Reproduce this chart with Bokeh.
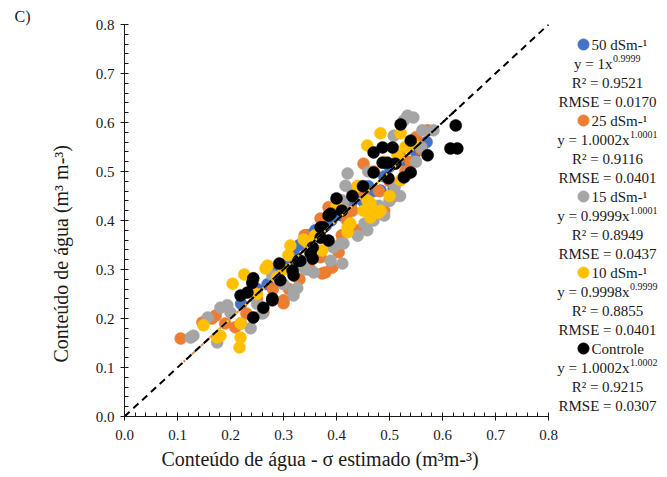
import numpy as np
from bokeh.plotting import figure
from bokeh.models import Range1d, FixedTicker, PrintfTickFormatter, Title
from bokeh.core.properties import value
from bokeh.embed import file_html
from bokeh.resources import INLINE

FONT = "Liberation Serif"
INK = "#1a1a1a"

# Series names, colours and power-fit statistics (y = a * x^b)
series_names = ["50 dSm-¹", "25 dSm-¹", "15 dSm-¹", "10 dSm-¹", "Controle"]
series_colors = ["#4472C4", "#ED7D31", "#A5A5A5", "#FFC000", "#000000"]
fit_a = [1.0, 1.0002, 0.9999, 0.9998, 1.0002]
fit_b = [0.9999, 1.0001, 1.0001, 0.9999, 1.0002]
eq_coef_text = ["1", "1.0002", "0.9999", "0.9998", "1.0002"]
eq_exp_text = ["0.9999", "1.0001", "1.0001", "0.9999", "1.0002"]
r2_text = ["0.9521", "0.9116", "0.8949", "0.8855", "0.9215"]
rmse_text = ["0.0170", "0.0401", "0.0437", "0.0401", "0.0307"]

axis_ticks = [0.0, 0.1, 0.2, 0.3, 0.4, 0.5, 0.6, 0.7, 0.8]
AXIS_MAX = 0.8

# Estimated (x) vs measured (y) water content, per salinity level
x_50 = [0.22, 0.25, 0.27, 0.29, 0.31, 0.319, 0.33, 0.345, 0.351, 0.36, 0.37, 0.38, 0.39, 0.40, 0.41, 0.42,
        0.43, 0.44, 0.45, 0.46, 0.47, 0.483, 0.49, 0.50, 0.508, 0.52, 0.53, 0.54, 0.55, 0.562, 0.57]
y_50 = [0.23, 0.26, 0.27, 0.30, 0.32, 0.333, 0.35, 0.37, 0.365, 0.38, 0.38, 0.39, 0.40, 0.42, 0.41, 0.43,
        0.44, 0.45, 0.44, 0.47, 0.46, 0.461, 0.49, 0.51, 0.465, 0.53, 0.52, 0.55, 0.54, 0.553, 0.56]

x_25 = [0.106, 0.147, 0.165, 0.172, 0.19, 0.209, 0.23, 0.25, 0.262, 0.28, 0.30, 0.30, 0.31, 0.33, 0.34,
        0.35, 0.36, 0.37, 0.37, 0.373, 0.379, 0.385, 0.392, 0.404, 0.41, 0.42, 0.43, 0.44, 0.44, 0.45,
        0.451, 0.46, 0.47, 0.48, 0.49, 0.50, 0.51, 0.52, 0.53, 0.54, 0.55, 0.56, 0.572]
y_25 = [0.159, 0.192, 0.200, 0.206, 0.190, 0.182, 0.210, 0.240, 0.212, 0.260, 0.231, 0.237, 0.260, 0.280,
        0.370, 0.300, 0.330, 0.325, 0.404, 0.292, 0.294, 0.427, 0.304, 0.335, 0.370, 0.400, 0.420, 0.380,
        0.470, 0.460, 0.516, 0.440, 0.500, 0.460, 0.420, 0.480, 0.450, 0.530, 0.500, 0.520, 0.570, 0.545,
        0.584]

x_15 = [0.125, 0.13, 0.157, 0.175, 0.181, 0.194, 0.20, 0.22, 0.238, 0.25, 0.26, 0.279, 0.30, 0.319, 0.319,
        0.326, 0.338, 0.342, 0.357, 0.36, 0.389, 0.394, 0.408, 0.411, 0.411, 0.413, 0.413, 0.417, 0.421,
        0.43, 0.44, 0.453, 0.458, 0.46, 0.47, 0.48, 0.49, 0.50, 0.508, 0.51, 0.52, 0.527, 0.53, 0.534,
        0.545, 0.55, 0.56, 0.562, 0.583]
y_15 = [0.161, 0.165, 0.202, 0.151, 0.222, 0.227, 0.212, 0.19, 0.180, 0.23, 0.21, 0.288, 0.27, 0.257, 0.247,
        0.262, 0.304, 0.300, 0.294, 0.34, 0.318, 0.345, 0.353, 0.312, 0.441, 0.353, 0.435, 0.471, 0.496,
        0.46, 0.369, 0.394, 0.380, 0.50, 0.40, 0.43, 0.41, 0.44, 0.573, 0.47, 0.45, 0.604, 0.49, 0.614,
        0.610, 0.52, 0.55, 0.584, 0.584]

x_10 = [0.149, 0.175, 0.181, 0.204, 0.217, 0.219, 0.219, 0.226, 0.25, 0.266, 0.270, 0.288, 0.30, 0.309,
        0.313, 0.338, 0.345, 0.36, 0.373, 0.40, 0.421, 0.421, 0.426, 0.44, 0.451, 0.458, 0.458, 0.464,
        0.464, 0.470, 0.479, 0.483, 0.483, 0.49, 0.50, 0.515, 0.521, 0.521, 0.53, 0.545]
y_10 = [0.186, 0.161, 0.165, 0.271, 0.141, 0.161, 0.190, 0.290, 0.25, 0.302, 0.308, 0.284, 0.30, 0.329,
        0.349, 0.361, 0.355, 0.37, 0.339, 0.43, 0.386, 0.376, 0.394, 0.47, 0.420, 0.441, 0.553, 0.406,
        0.435, 0.420, 0.416, 0.420, 0.578, 0.52, 0.45, 0.533, 0.482, 0.578, 0.55, 0.557]

x_ctrl = [0.219, 0.232, 0.241, 0.243, 0.243, 0.262, 0.279, 0.279, 0.292, 0.294, 0.317, 0.319, 0.328, 0.332,
          0.351, 0.355, 0.355, 0.370, 0.370, 0.375, 0.385, 0.385, 0.389, 0.400, 0.41, 0.43, 0.45, 0.470,
          0.470, 0.487, 0.487, 0.496, 0.498, 0.506, 0.511, 0.521, 0.527, 0.540, 0.540, 0.572, 0.615, 0.625,
          0.628]
y_ctrl = [0.247, 0.253, 0.273, 0.202, 0.282, 0.222, 0.241, 0.237, 0.312, 0.278, 0.298, 0.288, 0.318, 0.318,
          0.333, 0.345, 0.322, 0.365, 0.386, 0.386, 0.359, 0.410, 0.414, 0.445, 0.42, 0.45, 0.47, 0.539,
          0.498, 0.549, 0.518, 0.518, 0.486, 0.549, 0.516, 0.596, 0.488, 0.498, 0.563, 0.533, 0.547, 0.594,
          0.547]

series_x = [x_50, x_25, x_15, x_10, x_ctrl]
series_y = [y_50, y_25, y_15, y_10, y_ctrl]

# Canvas geometry: the frame runs to the right edge so the legend column
# sits inside it; the axes themselves are bounded to 0..0.8.
W, H = 667, 477
LEFT, TOP, BOTTOM = 124, 24, 61
PX_PER_X, PX_PER_Y = 530.0, 490.0
frame_w, frame_h = W - LEFT, H - TOP - BOTTOM


def sx(px):
    return (px - LEFT) / PX_PER_X


def sy(py):
    return (TOP + frame_h - py) / PX_PER_Y


p = figure(width=W, height=H, output_backend="svg", toolbar_location=None,
           x_range=Range1d(0, frame_w / PX_PER_X), y_range=Range1d(0, frame_h / PX_PER_Y),
           min_border_left=LEFT, min_border_right=0, min_border_top=TOP, min_border_bottom=BOTTOM)
p.outline_line_color = None
p.xgrid.visible = False
p.ygrid.visible = False
p.background_fill_color = "white"
p.border_fill_color = "white"

# Panel label in the top-left corner
p.title.text = "C)"
p.title.align = "left"
p.title.offset = 14 - LEFT
p.title.standoff = 0
p.title.text_font = FONT
p.title.text_font_size = "16px"
p.title.text_font_style = "normal"
p.title.text_color = INK

minor = [round(i * 0.02, 2) for i in range(41) if i % 5 != 0]
for ax in (p.xaxis[0], p.yaxis[0]):
    ax.ticker = FixedTicker(ticks=axis_ticks, minor_ticks=minor)
    ax.formatter = PrintfTickFormatter(format="%.1f")
    ax.bounds = (0, AXIS_MAX)
    ax.axis_line_color = INK
    ax.major_tick_line_color = INK
    ax.minor_tick_line_color = INK
    ax.major_tick_in = 4
    ax.major_tick_out = 4
    ax.minor_tick_in = 4
    ax.minor_tick_out = 0
    ax.major_label_text_font = FONT
    ax.major_label_text_font_size = "15px"
    ax.major_label_text_color = INK
p.xaxis[0].major_label_standoff = 9
p.yaxis[0].major_label_standoff = 6

# Axis titles, positioned along the 0..0.8 plotting area
title_kw = dict(text_font=FONT, text_font_size="20px", text_font_style="normal", text_color=INK, align="left")
p.add_layout(Title(text="Conteúdo de água - σ estimado (m³m-³)", offset=161 - LEFT, standoff=11,
                   vertical_align="top", **title_kw), "below")
p.add_layout(Title(text="Conteúdo de água (m³ m-³)", offset=TOP + frame_h - 362, standoff=42, **title_kw), "left")

# Scatter points
for xs, ys, c in zip(series_x, series_y, series_colors):
    p.scatter(xs, ys, marker="circle", size=12, fill_color=c, line_color=c, line_width=0.5)

# Power-fit trendlines over each series' range
for xs, a, b, c in zip(series_x, fit_a, fit_b, series_colors):
    xx = np.linspace(min(xs), max(xs), 60)
    p.line(xx, a * xx ** b, line_color=c, line_width=2, line_dash="2 2")

# 1:1 reference line
p.line([0, AXIS_MAX], [0, AXIS_MAX], line_color="black", line_width=2, line_dash="7 5")

# Legend column with fit equations and statistics
TOP0, STEP = 44, 19
MARK_PX, TEXT_PX, CENTER_PX = 583, 591, 607
text_kw = dict(text_font=value(FONT), text_font_size="15px", text_color=INK, text_baseline="middle")
for k in range(5):
    base = TOP0 + STEP * 4 * k
    p.scatter([sx(MARK_PX)], [sy(base)], marker="circle", size=11,
              fill_color=series_colors[k], line_color=series_colors[k])
    p.text([sx(TEXT_PX)], [sy(base)], text=[series_names[k]], text_align="left", **text_kw)
    main = "y = " + eq_coef_text[k] + "x"
    junction = 612 if k == 0 else 629
    p.text([sx(junction)], [sy(base + STEP)], text=[main], text_align="right", **text_kw)
    p.text([sx(junction + 0.5)], [sy(base + STEP - 5)], text=[eq_exp_text[k]], text_align="left",
           text_font=value(FONT), text_font_size="10px", text_color=INK, text_baseline="middle")
    p.text([sx(CENTER_PX)], [sy(base + 2 * STEP)], text=["R² = " + r2_text[k]], text_align="center", **text_kw)
    p.text([sx(CENTER_PX)], [sy(base + 3 * STEP)], text=["RMSE = " + rmse_text[k]], text_align="center", **text_kw)

open("out.html", "w").write(file_html(p, INLINE))
